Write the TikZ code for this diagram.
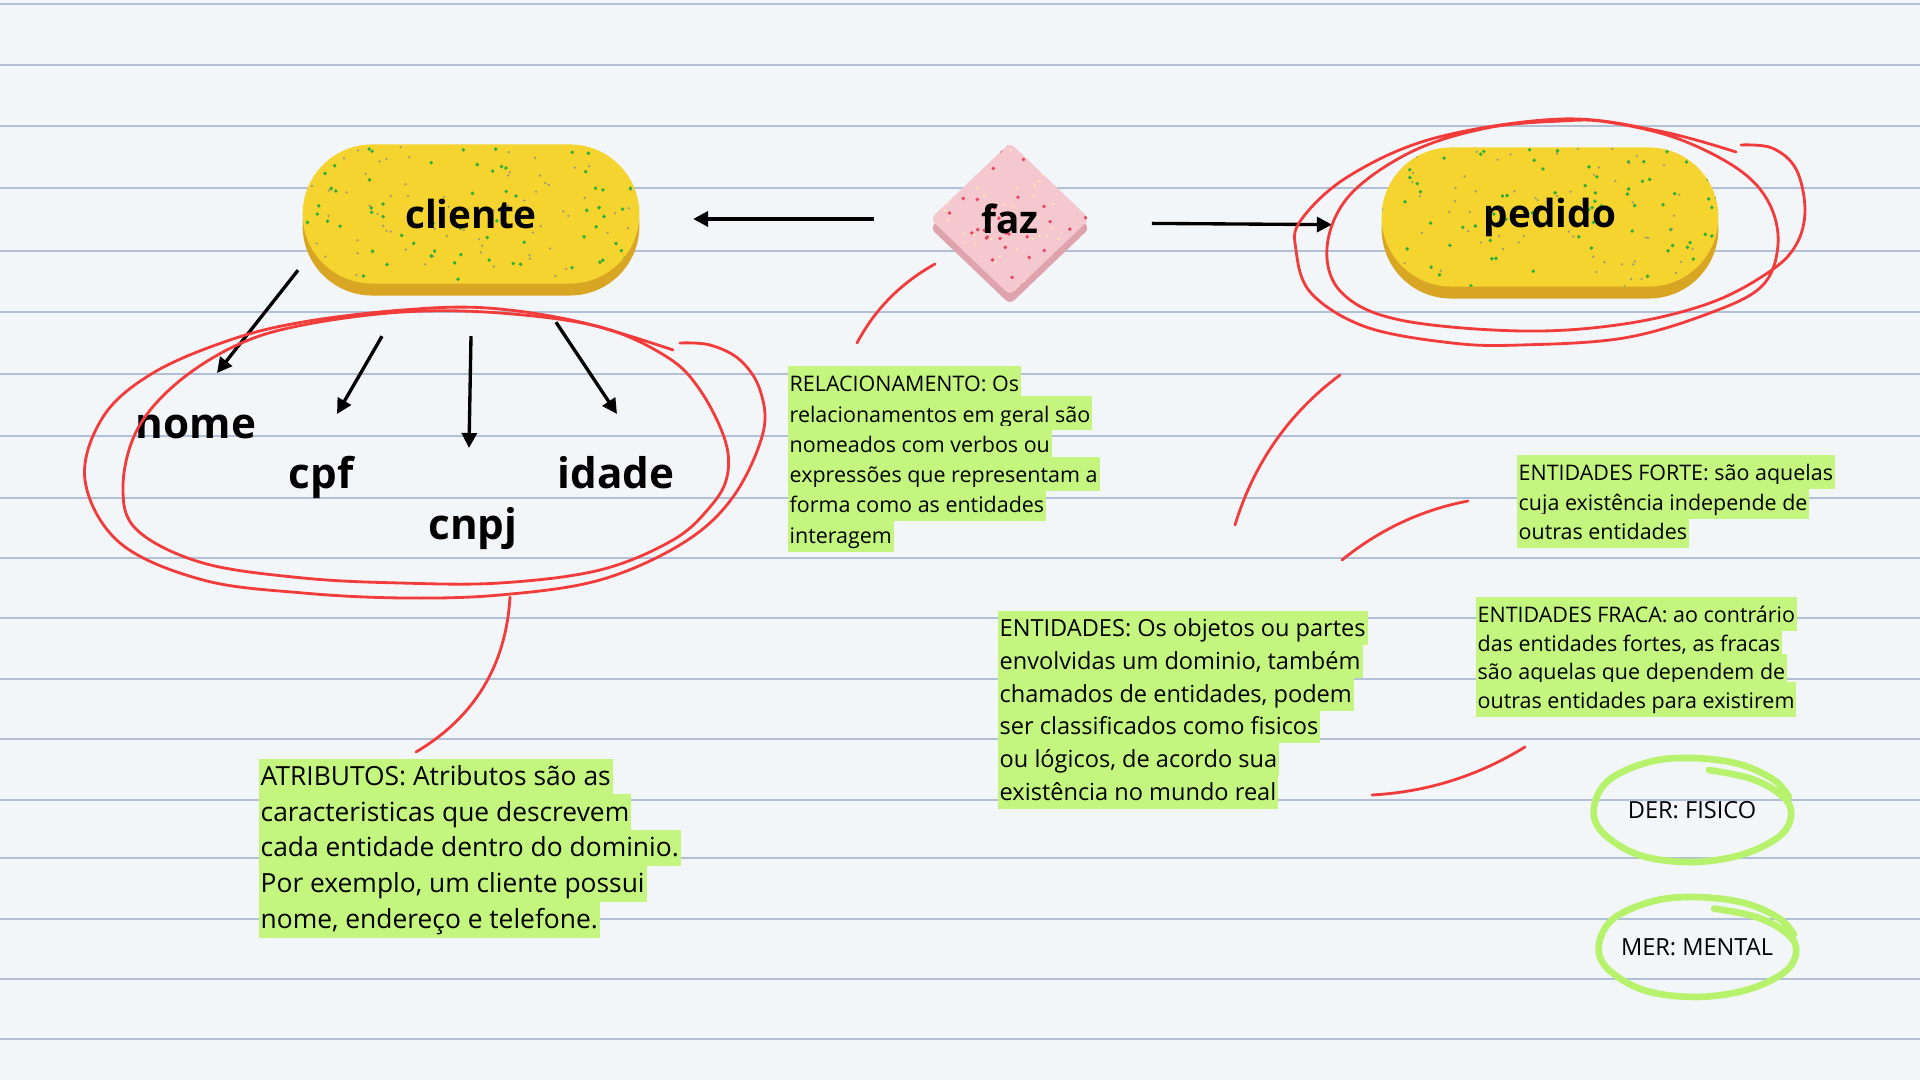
\documentclass[tikz,border=0pt]{standalone}
\usepackage{fontspec}
\setmainfont{Open Sans}
\usetikzlibrary{shapes.geometric, shapes.misc, arrows.meta, positioning, calc, shadows}
\definecolor{Paper_White}{HTML}{F3F6F9}
\definecolor{Ruling_Blue}{HTML}{B2C0D7}
\definecolor{Pill_Yellow}{HTML}{F5D42F}
\definecolor{Pill_Rim}{HTML}{D9A624}
\definecolor{Faz_Pink}{HTML}{F4C8CE}
\definecolor{Faz_Rim}{HTML}{DEA3AC}
\definecolor{Speck_Green}{HTML}{2EAE3A}
\definecolor{Speck_Grey}{HTML}{9C9680}
\definecolor{Speck_Red}{HTML}{E5485E}
\definecolor{Speck_Cream}{HTML}{F7EFA8}
\definecolor{Pen_Red}{HTML}{F23B3B}
\definecolor{Pen_Green}{HTML}{B6F26C}
\definecolor{Note_Green}{HTML}{C4F67F}
\pgfmathsetseed{42}

\begin{document}
\begin{tikzpicture}[
    x=0.01cm, y=-0.01cm,
    >={Triangle[length=0.15cm, width=0.15cm]},
    specks/.style 2 args={path picture={
        \foreach \k in {1,...,70}{
            \fill[#1] let \p1=(path picture bounding box.south west), \p2=(path picture bounding box.north east)
                in ({\x1+rnd*(\x2-\x1)},{\y1+rnd*(\y2-\y1)}) circle[radius=0.55pt];
            \fill[#2] let \p1=(path picture bounding box.south west), \p2=(path picture bounding box.north east)
                in ({\x1+rnd*(\x2-\x1)},{\y1+rnd*(\y2-\y1)}) circle[radius=0.35pt];
        }}},
    entity/.style={
        rounded rectangle,
        fill=Pill_Yellow,
        minimum width=3.6cm,
        minimum height=1.39cm,
        font=\fontsize{11}{13}\selectfont\bfseries,
        general shadow={fill=Pill_Rim, shadow yshift=-0.12cm},
        specks={Speck_Green}{Speck_Grey}
    },
    relation/.style={
        diamond,
        fill=Faz_Pink,
        rounded corners=0.06cm,
        minimum width=1.6cm,
        minimum height=1.53cm,
        inner sep=0pt,
        font=\fontsize{11}{13}\selectfont\bfseries,
        general shadow={fill=Faz_Rim, shadow yshift=-0.09cm},
        specks={Speck_Red}{Speck_Cream}
    },
    attr/.style={font=\fontsize{12}{14}\selectfont\bfseries},
    link/.style={->, line width=0.95pt},
    pen/.style={draw=Pen_Red, line width=0.8pt, line cap=round},
    ring/.style={draw=Pen_Green, line width=1.9pt, line cap=round},
    ruled/.style={draw=Ruling_Blue, line width=0.7pt},
    hilite/.style 2 args={fill=Note_Green, anchor=north west, inner xsep=0.02cm, inner ysep=0pt,
        minimum height=#1, text height=0.74em, text depth=0.24em, font=\fontsize{#2}{#2}\selectfont}
]
\useasboundingbox (0,0) rectangle (1920,1080);
% lined paper
\fill[Paper_White] (0,0) rectangle (1920,1080);
\foreach \y in {4,65,126,188,251,312,374,436,498,558,618,679,739,800,858,919,979,1039}
    \draw[ruled] (0,\y) -- (1920,\y);

% notes
\foreach \t [count=\i] in {{RELACIONAMENTO: Os}, {relacionamentos em geral são}, {nomeados com verbos ou},
        {expressões que representam a}, {forma como as entidades}, {interagem}}
    \node[hilite={0.303cm}{6.1}] (rel-\i) at (787,{365+30.3*(\i-1)}) {\t};
\foreach \t [count=\i] in {{ENTIDADES: Os objetos ou partes}, {envolvidas um dominio, também},
        {chamados de entidades, podem}, {ser classificados como fisicos}, {ou lógicos, de acordo sua},
        {existência no mundo real}}
    \node[hilite={0.327cm}{6.7}] (ent-\i) at (997,{610+32.7*(\i-1)}) {\t};
\foreach \t [count=\i] in {{ATRIBUTOS: Atributos são as}, {caracteristicas que descrevem},
        {cada entidade dentro do dominio.}, {Por exemplo, um cliente possui}, {nome, endereço e telefone.}}
    \node[hilite={0.358cm}{7.5}] (atr-\i) at (258,{758+35.8*(\i-1)}) {\t};
\foreach \t [count=\i] in {{ENTIDADES FORTE: são aquelas}, {cuja existência independe de}, {outras entidades}}
    \node[hilite={0.296cm}{6.1}] (forte-\i) at (1516,{454+29.6*(\i-1)}) {\t};
\foreach \t [count=\i] in {{ENTIDADES FRACA: ao contrário}, {das entidades fortes, as fracas},
        {são aquelas que dependem de}, {outras entidades para existirem}}
    \node[hilite={0.285cm}{6.1}] (fraca-\i) at (1475,{596+28.5*(\i-1)}) {\t};

% entities and relationship
\node[entity] (cliente) at (471,214) {cliente};
\node[relation] (faz) at (1010,219) {faz};
\node[entity] (pedido) at (1550,217) {pedido};

\draw[link, shorten <=0.55cm, shorten >=0.53cm] (faz.west) -- (faz.west -| cliente.east);
\draw[link, shorten <=0.61cm, shorten >=0.49cm] ([yshift=-0.04cm]faz.east) -- ([yshift=-0.06cm]faz.east -| pedido.west);

% attributes
\node[attr] (nome) at (196,427) {nome};
\node[attr] (cpf) at (321,477) {cpf};
\node[attr] (cnpj) at (473,529) {cnpj};
\node[attr] (idade) at (616,473) {idade};

\draw[link] ($(cliente.south)+(-173,-14)$) -- ($(nome)+(21,-54)$);
\draw[link] ($(cliente.south)+(-89,52)$) -- ($(cpf)+(16,-63)$);
\draw[link] ($(cliente.south)+(0,52)$) -- ($(cnpj)+(-4,-81)$);
\draw[link] ($(cliente.south)+(85,38)$) -- ($(idade)+(1,-59)$);

% red pen marks
\draw[pen] plot[smooth, tension=0.6] coordinates {(673,350) (580,322) (487,308) (403,310) (303,322)
    (230,340) (153,373) (103,417) (85,480) (120,543) (203,580) (303,593) (403,598) (500,595) (600,580)
    (683,543) (733,497) (763,433) (760,390) (740,360) (710,345) (680,343)};
\draw[pen] plot[smooth cycle, tension=0.6] coordinates {(403,312) (303,325) (237,345) (177,383) (137,430)
    (123,487) (137,530) (203,563) (303,578) (400,583) (500,583) (600,570) (673,540) (710,507) (727,477)
    (725,440) (700,390) (667,357) (600,327) (500,313)};
\draw[pen] plot[smooth, tension=0.6] coordinates {(1736,152) (1659,131) (1562,119) (1435,138) (1349,176)
    (1301,220) (1296,250) (1311,293) (1366,327) (1452,343) (1521,345) (1624,338) (1710,313) (1762,286)
    (1778,245) (1769,203) (1738,169) (1676,138) (1607,122) (1562,121) (1487,128) (1411,152) (1349,196)
    (1327,248) (1342,293) (1400,320) (1521,331) (1624,324) (1710,303) (1769,272) (1796,245) (1805,210)
    (1796,169) (1772,148) (1741,145)};
\draw[pen] (510,597) .. controls (506,665) and (475,717) .. (416,752);
\draw[pen] (935,264) .. controls (901,283) and (875,309) .. (857,343);
\draw[pen] (1340,375) .. controls (1289,413) and (1254,463) .. (1235,525);
\draw[pen] (1468,501) .. controls (1421,510) and (1379,530) .. (1342,560);
\draw[pen] (1525,747) .. controls (1478,776) and (1427,792) .. (1372,795);

% green rings
\node[font=\fontsize{6.7}{8}\selectfont] (der) at (1692,810) {DER: FISICO};
\node[font=\fontsize{6.7}{8}\selectfont] (mer) at (1697,947) {MER: MENTAL};
\foreach \n/\s in {der/1, mer/0.96}
    \draw[ring, shift={(\n)}, yscale=\s] plot[smooth, tension=0.6] coordinates {(17,-40) (57,-32) (85,-18)
        (99,0) (90,24) (52,44) (0,52) (-53,45) (-90,22) (-98,-3) (-83,-30) (-43,-48) (0,-52) (47,-46)
        (82,-30) (97,-13)};
\end{tikzpicture}
\end{document}
